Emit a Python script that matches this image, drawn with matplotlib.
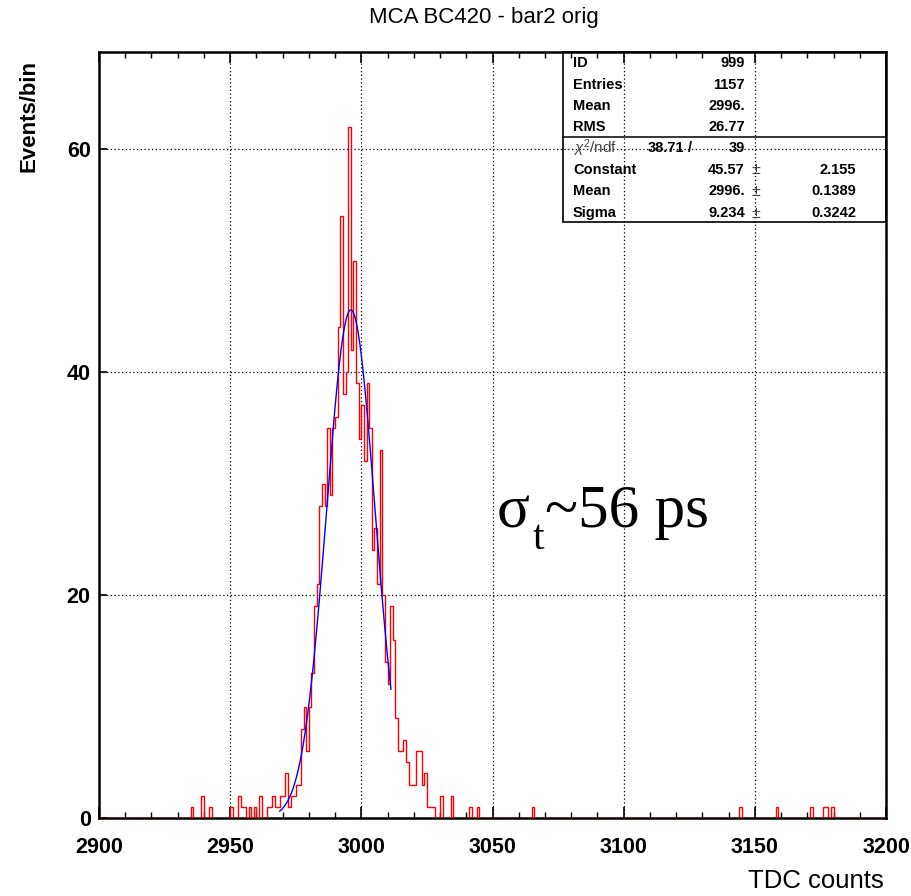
#!/usr/bin/env python3
"""
MCA BC420 - bar2 orig: TDC spectrum with gaussian fit (ROOT style)
"""

import matplotlib
matplotlib.use('Agg')
import matplotlib.pyplot as plt
from matplotlib.patches import Rectangle
from matplotlib.lines import Line2D
import numpy as np

plt.rcParams['font.family'] = ['Liberation Sans', 'DejaVu Sans']
plt.rcParams['mathtext.fontset'] = 'custom'
plt.rcParams['mathtext.rm'] = 'Liberation Sans'
plt.rcParams['mathtext.it'] = 'Liberation Sans:italic'

# ---- data (1 TDC count per bin) ----
bin_low = [2935, 2939, 2942, 2950, 2953, 2954, 2955, 2957, 2959, 2961,
           2964, 2965, 2966, 2967, 2968, 2969, 2970, 2971, 2972, 2973,
           2974, 2975, 2976, 2977, 2978, 2979, 2980, 2981, 2982, 2983,
           2984, 2985, 2986, 2987, 2988, 2989, 2990, 2991, 2992, 2993,
           2994, 2995, 2996, 2997, 2998, 2999, 3000, 3001, 3002, 3003,
           3004, 3005, 3006, 3007, 3008, 3009, 3010, 3011, 3012, 3013,
           3014, 3015, 3016, 3017, 3018, 3019, 3020, 3021, 3022, 3023,
           3024, 3025, 3026, 3027, 3030, 3034, 3041, 3044, 3065, 3144,
           3158, 3171, 3176, 3177, 3179]
bin_count = [1, 2, 1, 1, 2, 1, 1, 1, 1, 2,
             1, 1, 2, 1, 1, 2, 2, 4, 1, 2,
             2, 3, 3, 8, 10, 6, 10, 13, 19, 21,
             28, 30, 28, 35, 29, 35, 36, 44, 54, 38,
             40, 62, 42, 50, 39, 34, 37, 32, 39, 35,
             24, 26, 21, 33, 20, 14, 12, 19, 16, 9,
             6, 6, 7, 5, 3, 3, 3, 6, 6, 3,
             4, 1, 1, 1, 2, 2, 1, 1, 1, 1,
             1, 1, 1, 1, 1]

x_min, x_max = 2900, 3200

# gaussian fit parameters (from the stats box)
fit_const = 45.57
fit_mean = 2996.0
fit_sigma = 9.234
fit_range = (2968.9, 3011.3)

stats_labels = ['ID', 'Entries', 'Mean', 'RMS']
stats_values = ['999', '1157', '2996.', '26.77']
chi2_value, ndf_value = '38.71', '39'
par_names = ['Constant', 'Mean', 'Sigma']
par_values = ['45.57', '2996.', '9.234']
par_errors = ['2.155', '0.1389', '0.3242']

# ---- build histogram ----
edges = np.arange(x_min, x_max + 1)
counts = np.zeros(len(edges) - 1)
for b, c in zip(bin_low, bin_count):
    counts[b - x_min] = c

W, H = 912, 896
fig = plt.figure(figsize=(W / 100, H / 100), dpi=100)

def fx(px):
    return px / W

def fy(py):
    return 1 - py / H

ax = fig.add_axes([fx(99), fy(818), fx(886) - fx(99), fy(52) - fy(818)])

ax.stairs(counts, edges, color='red', lw=1.0, zorder=3)

xf = np.linspace(fit_range[0], fit_range[1], 200)
yf = fit_const * np.exp(-0.5 * ((xf - fit_mean) / fit_sigma) ** 2)
ax.plot(xf, yf, color='blue', lw=1.0, zorder=4)

ax.set_xlim(x_min, x_max)
ax.set_ylim(0, 68.7)
ax.set_xticks(np.arange(2900, 3201, 50))
ax.set_xticks(np.arange(2900, 3201, 10), minor=True)
ax.set_yticks([0, 20, 40, 60])
ax.grid(True, which='major', color='black', linestyle=(0, (1, 2)), lw=0.9)

ax.tick_params(axis='both', which='both', direction='in', top=True, right=False)
ax.tick_params(axis='x', which='major', length=8, width=1.2, labelsize=15.5, pad=14)
ax.tick_params(axis='x', which='minor', length=4.5, width=1.0)
ax.tick_params(axis='y', which='major', length=6, width=1.2, labelsize=15.5, pad=6)
for lab in ax.get_xticklabels() + ax.get_yticklabels():
    lab.set_fontweight('bold')
for s in ax.spines.values():
    s.set_linewidth(1.8)

fig.text(fx(484), fy(18), 'MCA BC420 - bar2 orig', ha='center', va='center', fontsize=16)
fig.text(fx(884), fy(881), 'TDC counts', ha='right', va='center', fontsize=18.5)
fig.text(fx(29), fy(60), 'Events/bin', ha='center', va='top', rotation=90,
         fontsize=16, fontweight='bold')

# sigma_t ~ 56 ps annotation (Times-like serif)
serif = 'Liberation Serif'
fig.text(fx(497), fy(527), 'σ', ha='left', va='baseline', fontsize=44, family=serif)
fig.text(fx(533), fy(549), 't', ha='left', va='baseline', fontsize=30, family=serif)
fig.text(fx(545), fy(527), '~56 ps', ha='left', va='baseline', fontsize=44, family=serif)

# ---- stats box ----
box = Rectangle((fx(563), fy(222)), fx(886) - fx(563), fy(52) - fy(222),
                transform=fig.transFigure, fill=False, edgecolor='black', lw=1.2, zorder=5)
fig.add_artist(box)
fig.add_artist(Line2D([fx(563), fx(886)], [fy(137), fy(137)], transform=fig.transFigure,
                      color='black', lw=1.1))

row_y = [63, 85, 106, 127, 148, 170, 191, 213]
fs = 10.5
for i, (lab, val) in enumerate(zip(stats_labels, stats_values)):
    fig.text(fx(573), fy(row_y[i]), lab, ha='left', va='center', fontsize=fs, fontweight='bold')
    fig.text(fx(745), fy(row_y[i]), val, ha='right', va='center', fontsize=fs, fontweight='bold')

fig.text(fx(573), fy(row_y[4]), r'$\chi^2$/ndf', ha='left', va='center', fontsize=fs + 0.5,
         color='#444444')
fig.text(fx(684), fy(row_y[4]), chi2_value, ha='right', va='center', fontsize=fs, fontweight='bold')
fig.text(fx(690), fy(row_y[4]), '/', ha='center', va='center', fontsize=fs, fontweight='bold')
fig.text(fx(745), fy(row_y[4]), ndf_value, ha='right', va='center', fontsize=fs, fontweight='bold')

for i, (nm, v, e) in enumerate(zip(par_names, par_values, par_errors)):
    yy = fy(row_y[5 + i])
    fig.text(fx(573), yy, nm, ha='left', va='center', fontsize=fs, fontweight='bold')
    fig.text(fx(745), yy, v, ha='right', va='center', fontsize=fs, fontweight='bold')
    fig.text(fx(756), yy, '±', ha='center', va='center', fontsize=fs + 1, color='#444444')
    fig.text(fx(856), yy, e, ha='right', va='center', fontsize=fs, fontweight='bold')

plt.savefig('out.png', dpi=100)
print("saved out.png")
